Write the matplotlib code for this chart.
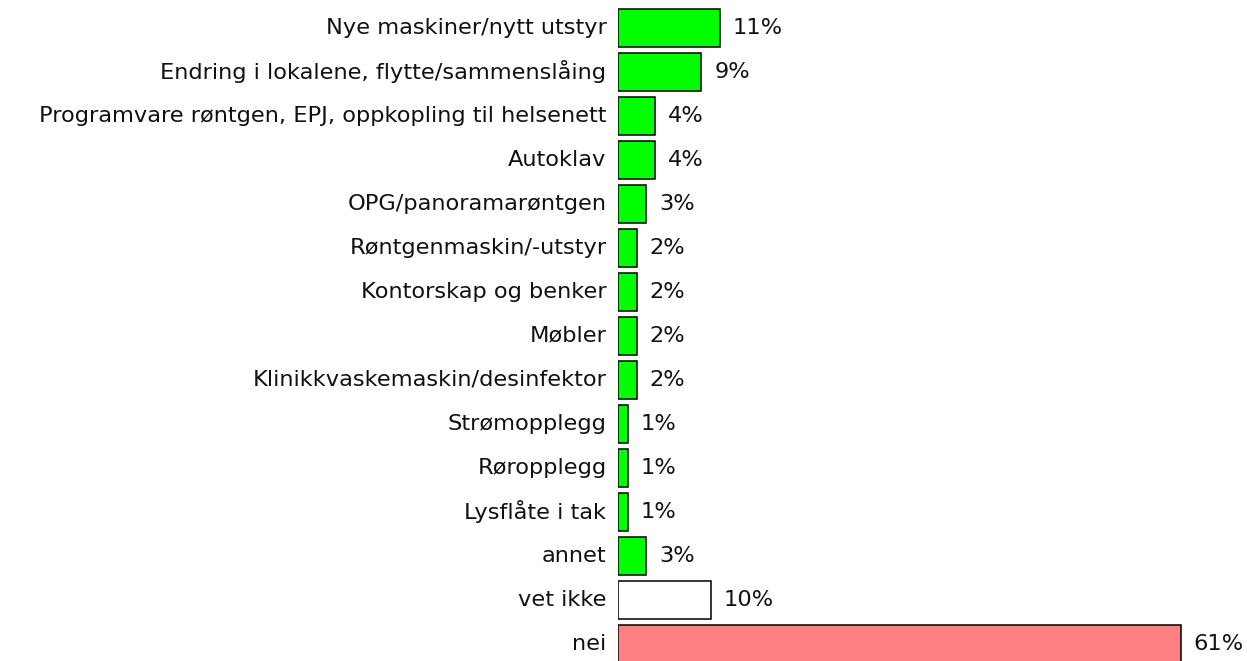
import matplotlib
matplotlib.use("Agg")
import matplotlib.pyplot as plt

# categories (top to bottom) and their shares in percent
labels = [
    "Nye maskiner/nytt utstyr",
    "Endring i lokalene, flytte/sammenslåing",
    "Programvare røntgen, EPJ, oppkopling til helsenett",
    "Autoklav",
    "OPG/panoramarøntgen",
    "Røntgenmaskin/-utstyr",
    "Kontorskap og benker",
    "Møbler",
    "Klinikkvaskemaskin/desinfektor",
    "Strømopplegg",
    "Røropplegg",
    "Lysflåte i tak",
    "annet",
    "vet ikke",
    "nei",
]
values = [11, 9, 4, 4, 3, 2, 2, 2, 2, 1, 1, 1, 3, 10, 61]
colors = ["#00ff00"] * 13 + ["#ffffff", "#ff8080"]

W, H, DPI = 1247, 661, 100
fig = plt.figure(figsize=(W / DPI, H / DPI), dpi=DPI)

x0 = 618.3           # pixel of the bar origin
px_per_pct = 9.22    # pixels per percent
row0, step = 27.8, 44.0

ax = fig.add_axes([x0 / W, 0, 1 - x0 / W, 1])
ax.set_xlim(0, (W - x0) / px_per_pct)
ax.set_ylim((H - row0) / step, -row0 / step)

ypos = list(range(len(labels)))
ax.barh(ypos, values, height=0.877, color=colors, edgecolor="black", linewidth=1.1)

fs = 16.2
for y, v, lab in zip(ypos, values, labels):
    ax.annotate(f"{v}%", (v, y), xytext=(9.4, 0), textcoords="offset points",
                va="center", ha="left", fontsize=fs, color="#111111")
    ax.annotate(lab, (0, y), xytext=(-8.5, 0), textcoords="offset points",
                va="center", ha="right", fontsize=fs, color="#111111",
                annotation_clip=False)

ax.set_xticks([])
ax.set_yticks([])
for s in ax.spines.values():
    s.set_visible(False)

fig.savefig("out.png", dpi=DPI)
